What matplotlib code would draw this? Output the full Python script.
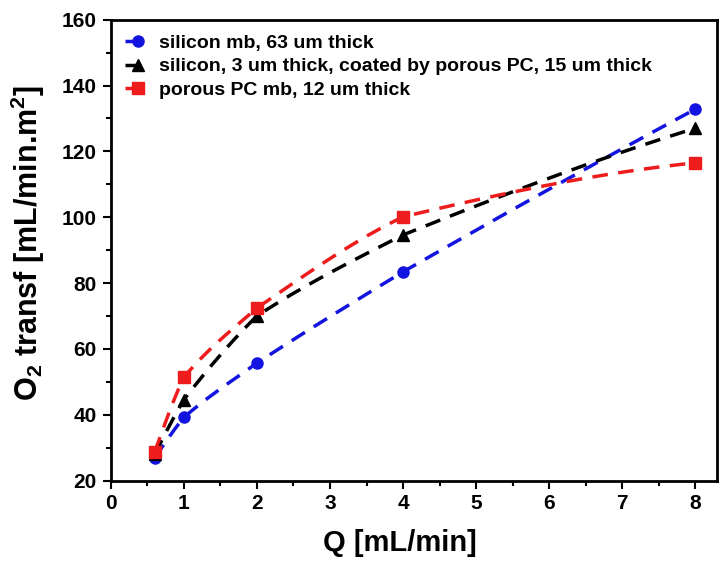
import numpy as np
import matplotlib
matplotlib.use("Agg")
import matplotlib.pyplot as plt
from matplotlib.ticker import MultipleLocator

plt.rcParams['font.family'] = ['Liberation Sans', 'DejaVu Sans']
plt.rcParams['font.weight'] = 'bold'
plt.rcParams['mathtext.fontset'] = 'custom'
plt.rcParams['mathtext.rm'] = 'Liberation Sans:bold'
plt.rcParams['mathtext.bf'] = 'Liberation Sans:bold'
plt.rcParams['mathtext.default'] = 'bf'

q = [0.6, 1, 2, 4, 8]
silicon_mb = [26.9, 39.2, 55.7, 83.4, 132.8]
silicon_coated = [28.0, 44.6, 70.0, 94.6, 127.0]
porous_pc = [28.7, 51.4, 72.4, 100.1, 116.5]

labels = ["silicon mb, 63 um thick",
          "silicon, 3 um thick, coated by porous PC, 15 um thick",
          "porous PC mb, 12 um thick"]
colors = ["#1414e0", "#000000", "#ee1c1c"]
markers = ["o", "^", "s"]


def pchip(x, y, xs):
    x = np.asarray(x, float); y = np.asarray(y, float)
    h = np.diff(x); d = np.diff(y) / h
    n = len(x)
    m = np.zeros(n)
    for k in range(1, n - 1):
        if d[k - 1] * d[k] > 0:
            w1 = 2 * h[k] + h[k - 1]; w2 = h[k] + 2 * h[k - 1]
            m[k] = (w1 + w2) / (w1 / d[k - 1] + w2 / d[k])
    m[0] = ((2 * h[0] + h[1]) * d[0] - h[0] * d[1]) / (h[0] + h[1])
    if np.sign(m[0]) != np.sign(d[0]):
        m[0] = 0
    m[-1] = ((2 * h[-1] + h[-2]) * d[-1] - h[-1] * d[-2]) / (h[-1] + h[-2])
    if np.sign(m[-1]) != np.sign(d[-1]):
        m[-1] = 0
    out = np.empty_like(xs)
    idx = np.clip(np.searchsorted(x, xs) - 1, 0, n - 2)
    for i, xv in enumerate(xs):
        k = idx[i]
        t = (xv - x[k]) / h[k]
        h00 = 2 * t**3 - 3 * t**2 + 1; h10 = t**3 - 2 * t**2 + t
        h01 = -2 * t**3 + 3 * t**2; h11 = t**3 - t**2
        out[i] = h00 * y[k] + h10 * h[k] * m[k] + h01 * y[k + 1] + h11 * h[k] * m[k + 1]
    return out


def smooth_line(x, y, xs, w=0.45):
    # mild smoothing: blend of straight segments and a monotone cubic
    return w * pchip(x, y, xs) + (1 - w) * np.interp(xs, x, y)


fig = plt.figure(figsize=(7.2, 5.62), dpi=100)
ax = fig.add_axes([0.154, 0.145, 0.842, 0.82])

xs = np.linspace(q[0], q[-1], 400)
dash = (0, (4.5, 3))
for ys, lab, c, mk in zip([silicon_mb, silicon_coated, porous_pc], labels, colors, markers):
    ax.plot(xs, smooth_line(q, ys, xs), color=c, lw=2.5, ls=dash)
    ax.plot(q, ys, ls='none', marker=mk, color=c, ms=8)
    ax.plot([], [], color=c, lw=2.5, ls=dash, marker=mk, ms=8, label=lab)

ax.set_xlim(0, 8.3)
ax.set_ylim(20, 160)
ax.xaxis.set_major_locator(MultipleLocator(1))
ax.xaxis.set_minor_locator(MultipleLocator(0.5))
ax.yaxis.set_major_locator(MultipleLocator(20))
ax.yaxis.set_minor_locator(MultipleLocator(10))
ax.tick_params(which='major', direction='out', length=6, width=1.5, labelsize=15, pad=4)
ax.tick_params(which='minor', direction='out', length=3.5, width=1.5)
for lab in ax.get_xticklabels() + ax.get_yticklabels():
    lab.set_fontweight('bold')
for s in ax.spines.values():
    s.set_linewidth(2)

ax.set_xlabel("Q [mL/min]", fontsize=21, fontweight='bold')
ax.set_ylabel(r"O$_2$ transf [mL/min.m$^2$]", fontsize=22, fontweight='bold')
ax.xaxis.set_label_coords(0.477, -0.105)
ax.yaxis.set_label_coords(-0.106, 0.516)

leg = ax.legend(loc='upper left', frameon=False, fontsize=14, handlelength=1.3,
                handletextpad=0.4, borderaxespad=0.45, labelspacing=0.3,
                borderpad=0.3)
for t in leg.get_texts():
    t.set_fontweight('bold')

fig.savefig("out.png", dpi=100)
